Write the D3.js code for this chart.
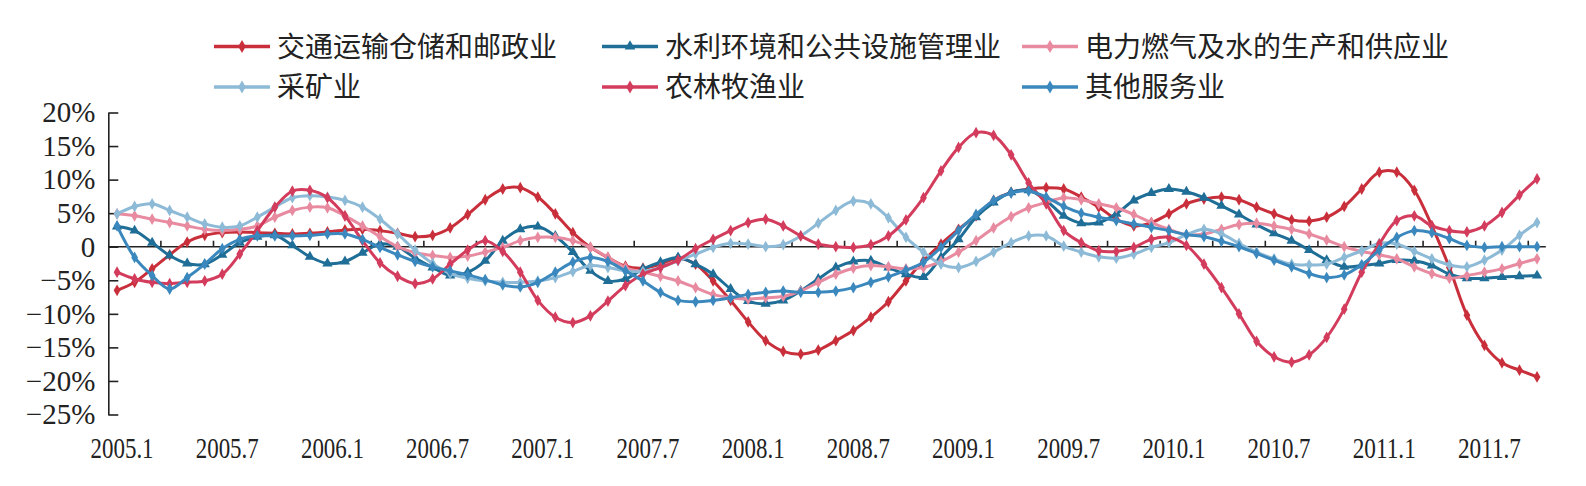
<!DOCTYPE html>
<html><head><meta charset="utf-8">
<script src="https://cdn.jsdelivr.net/npm/d3@7/dist/d3.min.js"></script>
<style>body{margin:0;background:#fff}svg{display:block}</style>
</head><body><svg id="c" width="1586" height="486"></svg>
<script>
const categories = [
"2005.1","2005.2","2005.3","2005.4","2005.5","2005.6","2005.7","2005.8","2005.9","2005.10","2005.11","2005.12",
"2006.1","2006.2","2006.3","2006.4","2006.5","2006.6","2006.7","2006.8","2006.9","2006.10","2006.11","2006.12",
"2007.1","2007.2","2007.3","2007.4","2007.5","2007.6","2007.7","2007.8","2007.9","2007.10","2007.11","2007.12",
"2008.1","2008.2","2008.3","2008.4","2008.5","2008.6","2008.7","2008.8","2008.9","2008.10","2008.11","2008.12",
"2009.1","2009.2","2009.3","2009.4","2009.5","2009.6","2009.7","2009.8","2009.9","2009.10","2009.11","2009.12",
"2010.1","2010.2","2010.3","2010.4","2010.5","2010.6","2010.7","2010.8","2010.9","2010.10","2010.11","2010.12",
"2011.1","2011.2","2011.3","2011.4","2011.5","2011.6","2011.7","2011.8","2011.9","2011.10"];

const xTickLabels = ["2005.1","2005.7","2006.1","2006.7","2007.1","2007.7","2008.1","2008.7","2009.1","2009.7","2010.1","2010.7","2011.1","2011.7"];
const yTickValues = [20,15,10,5,0,-5,-10,-15,-20,-25];
const yTickLabels = ["20%","15%","10%","5%","0","\u22125%","\u221210%","\u221215%","\u221220%","\u221225%"];

const seriesNames = ["交通运输仓储和邮政业","水利环境和公共设施管理业","电力燃气及水的生产和供应业","采矿业","农林牧渔业","其他服务业"];

const transport = [-6.5,-5.3,-3.3,-1.2,0.7,1.7,2.1,2.2,2.1,2.0,1.9,2.0,
2.2,2.5,2.6,2.4,2.0,1.5,1.7,2.8,4.8,7.0,8.6,8.8,
7.4,4.9,2.1,-0.1,-1.6,-2.9,-3.2,-2.6,-1.7,-2.6,-5.1,-8.0,
-11.2,-14.0,-15.6,-16.0,-15.4,-14.0,-12.5,-10.5,-8.2,-5.1,-2.1,0.4,
2.6,4.6,6.9,8.1,8.6,8.8,8.6,7.4,5.9,4.1,3.1,3.6,
4.9,6.4,7.1,7.4,7.0,5.9,4.9,4.0,3.8,4.4,6.0,8.6,
11.1,11.1,8.4,3.1,-3.1,-10.2,-14.7,-17.3,-18.4,-19.4];

const water = [3.0,2.4,0.6,-1.3,-2.5,-2.6,-1.2,0.6,1.5,1.7,0.2,-1.5,
-2.5,-2.2,-0.9,0.4,0.0,-1.7,-3.1,-4.3,-3.8,-2.1,0.9,2.6,
3.0,1.6,-0.8,-3.6,-5.1,-4.8,-3.3,-2.3,-1.6,-2.6,-4.1,-6.3,
-8.1,-8.5,-8.0,-6.6,-4.8,-3.1,-2.2,-2.1,-3.1,-4.1,-4.5,-1.6,
1.1,4.4,6.6,8.1,8.4,6.9,4.6,3.5,3.6,4.9,6.9,8.0,
8.6,8.2,7.3,6.1,4.8,3.3,2.0,0.9,-0.5,-2.0,-3.0,-2.8,
-2.5,-2.0,-2.1,-2.8,-4.1,-4.7,-4.7,-4.5,-4.4,-4.3];

const power = [4.9,4.6,4.1,3.6,3.1,2.6,2.4,2.6,3.1,4.4,5.4,5.9,
5.8,4.6,3.1,1.5,0.0,-0.9,-1.3,-1.6,-1.4,-0.8,-0.1,0.9,
1.4,1.4,0.9,-0.1,-1.6,-3.1,-3.8,-4.4,-5.1,-6.1,-7.1,-7.6,
-7.8,-7.6,-7.4,-6.6,-5.3,-4.1,-3.2,-2.8,-3.0,-3.3,-3.1,-2.2,
-0.8,0.9,2.8,4.5,5.8,6.6,7.3,7.0,6.4,5.8,4.8,3.6,
2.6,1.8,1.9,2.6,3.3,3.5,3.1,2.6,1.9,1.0,0.0,-0.7,
-1.2,-1.8,-3.0,-4.0,-4.7,-4.3,-3.8,-3.3,-2.5,-1.8];

const mining = [4.9,6.0,6.4,5.4,4.4,3.4,2.9,3.1,4.4,5.9,7.3,7.6,
7.4,6.9,5.9,4.1,1.9,-0.5,-2.5,-4.0,-4.7,-5.1,-5.3,-5.3,
-5.1,-4.6,-3.7,-2.8,-3.1,-3.6,-3.7,-3.1,-2.1,-1.1,-0.1,0.5,
0.4,0.0,0.3,1.6,3.5,5.4,6.8,6.4,4.3,1.4,-0.8,-2.6,
-3.1,-2.2,-0.8,0.6,1.6,1.6,0.1,-0.8,-1.5,-1.7,-1.1,-0.1,
0.6,1.8,2.6,1.9,0.5,-0.8,-1.8,-2.6,-2.7,-2.6,-1.6,-0.6,
0.5,0.4,-0.7,-1.8,-2.7,-3.0,-2.0,-0.5,1.7,3.6];

const agriculture = [-3.8,-4.8,-5.3,-5.5,-5.3,-5.1,-4.1,-1.1,2.4,5.9,8.3,8.4,
7.3,4.6,0.9,-2.4,-4.4,-5.5,-4.8,-2.6,-0.5,0.9,-0.7,-3.8,
-8.0,-10.5,-11.3,-10.3,-8.1,-5.8,-4.1,-3.1,-2.0,-0.3,1.1,2.4,
3.6,4.1,3.1,1.6,0.4,0.0,-0.1,0.3,1.6,4.0,7.3,11.3,
14.8,17.0,16.6,13.7,9.5,6.4,2.4,0.6,-0.6,-0.7,-0.1,1.1,
1.4,0.2,-2.6,-6.1,-10.0,-14.1,-16.4,-17.2,-16.1,-13.5,-9.3,-3.8,
0.4,3.9,4.6,3.1,2.4,2.2,3.1,5.1,7.7,10.1];

const otherServices = [3.1,-1.6,-4.3,-6.3,-4.6,-2.6,-0.3,1.1,1.6,1.6,1.6,1.7,
1.9,1.9,1.1,-0.1,-1.2,-2.2,-3.0,-3.6,-4.2,-4.9,-5.7,-6.0,
-5.3,-3.8,-2.3,-1.6,-2.2,-3.6,-5.1,-6.8,-8.0,-8.2,-8.0,-7.6,
-7.1,-6.8,-6.6,-6.8,-6.8,-6.6,-6.1,-5.3,-4.5,-3.5,-2.3,-0.1,
2.4,4.8,6.9,8.0,8.3,7.4,6.0,5.0,4.4,3.9,3.4,2.9,
2.4,1.8,1.5,0.8,0.0,-1.0,-2.0,-3.0,-4.0,-4.6,-4.2,-2.7,
-0.5,1.4,2.4,2.1,1.2,0.2,-0.1,0.0,0.0,0.0];

const seriesValues = [transport, water, power, mining, agriculture, otherServices];
const seriesColors = ["#c92f3b","#1f6e97","#e88aa0","#8dbad6","#d33c5c","#3a88bd"];
const seriesMarkers = [d3.symbolDiamond, d3.symbolTriangle, d3.symbolDiamond, d3.symbolDiamond, d3.symbolDiamond, d3.symbolDiamond];

const svg = d3.select("#c");
const plotLeft = 108.3, plotRight = 1545.8, plotTop = 112.5, plotBottom = 414.5;

const x = d3.scalePoint().domain(categories).range([plotLeft, plotRight]).padding(0.5);
const step = x.step();
const y = d3.scaleLinear().domain([-25, 20]).range([plotBottom, plotTop]);

const serif = "'Liberation Serif','Times New Roman',serif";
const cjk = "'Noto Sans CJK SC','Noto Sans CJK JP',sans-serif";

// Y axis
const yAxis = d3.axisLeft(y).tickValues(yTickValues).tickSizeInner(-10).tickSizeOuter(0)
  .tickFormat((d,i)=>yTickLabels[i]).tickPadding(13);
const gy = svg.append("g").attr("transform",`translate(${plotLeft},0)`).call(yAxis);
gy.select(".domain").attr("stroke","#222").attr("stroke-width",1.6);
gy.selectAll(".tick line").attr("stroke","#222").attr("stroke-width",1.6);
gy.selectAll(".tick text").attr("font-family",serif).attr("font-size",29).attr("fill","#222");

// X axis at zero line
const boundaryTicks = categories.filter((c,i)=>i>0 && i%3===0);
const gx = svg.append("g").attr("transform",`translate(0,${y(0)})`);
gx.append("line").attr("x1",plotLeft).attr("x2",plotRight).attr("stroke","#222").attr("stroke-width",1.6);
gx.selectAll("line.tk").data(boundaryTicks).join("line").attr("class","tk")
  .attr("x1",d=>x(d)-step/2).attr("x2",d=>x(d)-step/2).attr("y1",0).attr("y2",-6)
  .attr("stroke","#222").attr("stroke-width",1.6);

// x labels at bottom
svg.append("g").selectAll("text").data(xTickLabels).join("text")
  .attr("x",d=>x(d)+5).attr("y",458).attr("text-anchor","middle")
  .attr("font-family",serif).attr("font-size",30).attr("fill","#222")
  .attr("textLength",63).attr("lengthAdjust","spacingAndGlyphs")
  .text(d=>d);

// series
const line = d3.line().x((d,i)=>x(categories[i])).y(d=>y(d)).curve(d3.curveCatmullRom.alpha(0.5));
seriesValues.forEach((vals,si)=>{
  const g = svg.append("g");
  g.append("path").attr("d",line(vals)).attr("fill","none")
    .attr("stroke",seriesColors[si]).attr("stroke-width",3);
  const sym = d3.symbol().type(seriesMarkers[si]).size(si===1?46:40);
  g.selectAll("path.m").data(vals).join("path").attr("class","m")
    .attr("transform",(d,i)=>`translate(${x(categories[i])},${y(d)})`)
    .attr("d",sym()).attr("fill",seriesColors[si]);
});

// legend
const legendPos = [[214,46.5],[602,46.5],[1022,46.5],[214,87],[602,87],[1022,87]];
seriesNames.forEach((name,si)=>{
  const [lx,ly] = legendPos[si];
  const g = svg.append("g");
  g.append("line").attr("x1",lx).attr("x2",lx+56).attr("y1",ly).attr("y2",ly)
    .attr("stroke",seriesColors[si]).attr("stroke-width",3.5);
  g.append("path").attr("transform",`translate(${lx+28},${ly})`)
    .attr("d",d3.symbol().type(seriesMarkers[si]).size(50)()).attr("fill",seriesColors[si]);
  g.append("text").attr("x",lx+63).attr("y",ly).attr("dy","0.36em")
    .attr("font-family",cjk).attr("font-size",28).attr("fill","#222").text(name);
});
</script>
</body></html>
